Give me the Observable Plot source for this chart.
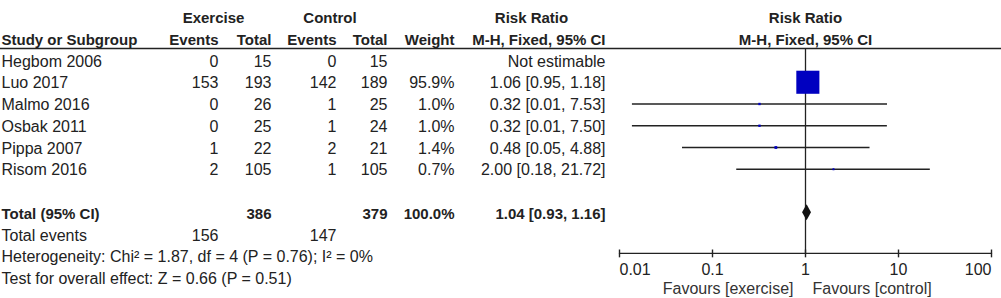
<!DOCTYPE html>
<html>
<head>
<meta charset="utf-8">
<script src="https://cdn.jsdelivr.net/npm/d3@7"></script>
<script src="https://cdn.jsdelivr.net/npm/@observablehq/plot@0.6"></script>
<style>
  body { margin: 0; background: #fff; }
  #chart svg { display: block; }
</style>
</head>
<body>
<div id="chart"></div>
<script>
// Study-level data (exercise vs control), risk ratios with 95% CI
const studies  = ["Hegbom 2006", "Luo 2017", "Malmo 2016", "Osbak 2011", "Pippa 2007", "Risom 2016"];
const exEvents = [0, 153, 0, 0, 1, 2];
const exTotal  = [15, 193, 26, 25, 22, 105];
const ctEvents = [0, 142, 1, 1, 2, 1];
const ctTotal  = [15, 189, 25, 24, 21, 105];
const weights  = [null, 95.9, 1.0, 1.0, 1.4, 0.7];
const ratios   = [null, 1.06, 0.32, 0.32, 0.48, 2.00];
const lowers   = [null, 0.95, 0.0136, 0.0136, 0.047, 0.18];
const uppers   = [null, 1.18, 7.53, 7.50, 4.88, 21.72];

// Pooled result
const pooledTotals = [386, 379];
const pooledEvents = [156, 147];
const pooledWeight = 100.0;
const pooledRatio  = 1.04;
const pooledLower  = 0.93;
const pooledUpper  = 1.16;
const heterogeneityText = "Heterogeneity: Chi\u00B2 = 1.87, df = 4 (P = 0.76); I\u00B2 = 0%";
const overallText = "Test for overall effect: Z = 0.66 (P = 0.51)";

// Axis
const tickValues = [0.01, 0.1, 1, 10, 100];
const tickLabels = ["0.01", "0.1", "1", "10", "100"];
const favourLeft  = "Favours [exercise]";
const favourRight = "Favours [control]";

// Headers
const groupHeaders  = ["Exercise", "Control", "Risk Ratio"];
const columnHeaders = ["Study or Subgroup", "Events", "Total", "Events", "Total", "Weight", "M-H, Fixed, 95% CI"];
const plotHeaders   = ["Risk Ratio", "M-H, Fixed, 95% CI"];

// ---- layout (pixel columns of the table, row slots) ----
const COL = { name: 1, exEvents: 218, exTotal: 271, ctEvents: 336, ctTotal: 387, weight: 454, ci: 605 };
const GROUP_CENTER = [213, 329.5, 531];
const ROW = { group: -2, column: -1, rule: -0.55, total: 7, events: 8, het: 9, test: 10, axis: 8.87, tick: 9.61, favour: 10.48 };
const TEXT_DY = 1;
const BOLD_SIZE = 15;
const INK = "#222";
const BLUE = "#0000c0";

const fmtCI = (r, lo, hi) => `${r.toFixed(2)} [${lo.toFixed(2)}, ${hi.toFixed(2)}]`;

const rows = studies.map((s, i) => ({
  study: s, row: i,
  exE: exEvents[i], exT: exTotal[i], ctE: ctEvents[i], ctT: ctTotal[i],
  weight: weights[i], rr: ratios[i], lo: lowers[i], hi: uppers[i]
}));
const estimable = rows.filter(d => d.rr != null);

const col = (key, accessor, opts = {}) =>
  Plot.text(rows, { y: "row", text: accessor, frameAnchor: "left", dx: COL[key], textAnchor: "end", dy: TEXT_DY, ...opts });

const cell = (label, row, px, anchor, bold = false) =>
  Plot.text([label], {
    text: d => d, y: row, frameAnchor: "left", dx: px, textAnchor: anchor, dy: TEXT_DY,
    ...(bold ? { fontWeight: "bold", fontSize: BOLD_SIZE } : {})
  });

const diamondH = 0.37;
const diamond = [
  { y: ROW.total - diamondH, x1: pooledRatio, x2: pooledRatio },
  { y: ROW.total, x1: pooledLower, x2: pooledUpper },
  { y: ROW.total + diamondH, x1: pooledRatio, x2: pooledRatio }
];

const tickData = tickValues.map((v, i) => ({ v, label: tickLabels[i], i }));
const last = tickData.length - 1;
const tickHalf = 0.18;

const chart = Plot.plot({
  width: 1001,
  height: 298,
  margin: 0,
  style: { fontFamily: "'Liberation Sans', Arial, sans-serif", fontSize: "16px", color: INK, background: "#fff" },
  x: { type: "log", domain: [0.01, 100], range: [619, 991], axis: null },
  y: { domain: [-2, 10], range: [16.5, 277.5], axis: null },
  r: { type: "sqrt", domain: [0, 100], range: [0, 13.3] },
  marks: [
    // header rows
    cell(groupHeaders[0], ROW.group, GROUP_CENTER[0], "middle", true),
    cell(groupHeaders[1], ROW.group, GROUP_CENTER[1], "middle", true),
    cell(groupHeaders[2], ROW.group, GROUP_CENTER[2], "middle", true),
    cell(columnHeaders[0], ROW.column, COL.name, "start", true),
    cell(columnHeaders[1], ROW.column, COL.exEvents, "end", true),
    cell(columnHeaders[2], ROW.column, COL.exTotal, "end", true),
    cell(columnHeaders[3], ROW.column, COL.ctEvents, "end", true),
    cell(columnHeaders[4], ROW.column, COL.ctTotal, "end", true),
    cell(columnHeaders[5], ROW.column, COL.weight, "end", true),
    cell(columnHeaders[6], ROW.column, COL.ci, "end", true),
    Plot.text([plotHeaders[0]], { text: d => d, x: [1], y: [ROW.group], fontWeight: "bold", fontSize: BOLD_SIZE, dy: TEXT_DY }),
    Plot.text([plotHeaders[1]], { text: d => d, x: [1], y: [ROW.column], fontWeight: "bold", fontSize: BOLD_SIZE, dy: TEXT_DY }),
    Plot.ruleY([ROW.rule], { stroke: INK, strokeWidth: 1.5 }),

    // study rows
    col("name", "study", { textAnchor: "start" }),
    col("exEvents", "exE"),
    col("exTotal", "exT"),
    col("ctEvents", "ctE"),
    col("ctTotal", "ctT"),
    col("weight", d => d.weight == null ? "" : d.weight.toFixed(1) + "%"),
    col("ci", d => d.rr == null ? "Not estimable" : fmtCI(d.rr, d.lo, d.hi)),

    // totals
    cell("Total (95% CI)", ROW.total, COL.name, "start", true),
    cell(String(pooledTotals[0]), ROW.total, COL.exTotal, "end", true),
    cell(String(pooledTotals[1]), ROW.total, COL.ctTotal, "end", true),
    cell(pooledWeight.toFixed(1) + "%", ROW.total, COL.weight, "end", true),
    cell(fmtCI(pooledRatio, pooledLower, pooledUpper), ROW.total, COL.ci, "end", true),
    cell("Total events", ROW.events, COL.name, "start"),
    cell(String(pooledEvents[0]), ROW.events, COL.exEvents, "end"),
    cell(String(pooledEvents[1]), ROW.events, COL.ctEvents, "end"),
    cell(heterogeneityText, ROW.het, COL.name, "start"),
    cell(overallText, ROW.test, COL.name, "start"),

    // line of no effect
    Plot.ruleX([1], { y1: ROW.rule, y2: ROW.axis, stroke: INK, strokeWidth: 1.3 }),

    // confidence intervals and weighted squares
    Plot.link(estimable, { x1: "lo", x2: "hi", y1: "row", y2: "row", stroke: INK, strokeWidth: 1.4 }),
    Plot.dot(estimable, { x: "rr", y: "row", r: "weight", symbol: "square", fill: BLUE, stroke: "none" }),

    // pooled diamond
    Plot.areaX(diamond, { y: "y", x1: "x1", x2: "x2", fill: "#111", curve: "linear" }),

    // axis: baseline through the tick positions, ticks crossing it
    Plot.line(tickData, { x: "v", y: () => ROW.axis, stroke: INK, strokeWidth: 1.4 }),
    Plot.link(tickData, { x1: "v", x2: "v", y1: () => ROW.axis - tickHalf, y2: () => ROW.axis + tickHalf, stroke: INK, strokeWidth: 1.4 }),
    Plot.text(tickData.filter(d => d.i === 0), { x: "v", y: ROW.tick, text: "label", textAnchor: "start", fill: INK }),
    Plot.text(tickData.filter(d => d.i > 0 && d.i < last), { x: "v", y: ROW.tick, text: "label", textAnchor: "middle", fill: INK }),
    Plot.text(tickData.filter(d => d.i === last), { x: "v", y: ROW.tick, text: "label", textAnchor: "end", fill: INK }),
    Plot.text([favourLeft], { text: d => d, x: [1], y: [ROW.favour], dx: -12, textAnchor: "end", fill: "#333" }),
    Plot.text([favourRight], { text: d => d, x: [1], y: [ROW.favour], dx: 7, textAnchor: "start", fill: "#333" })
  ]
});

document.getElementById("chart").appendChild(chart);
</script>
</body>
</html>
